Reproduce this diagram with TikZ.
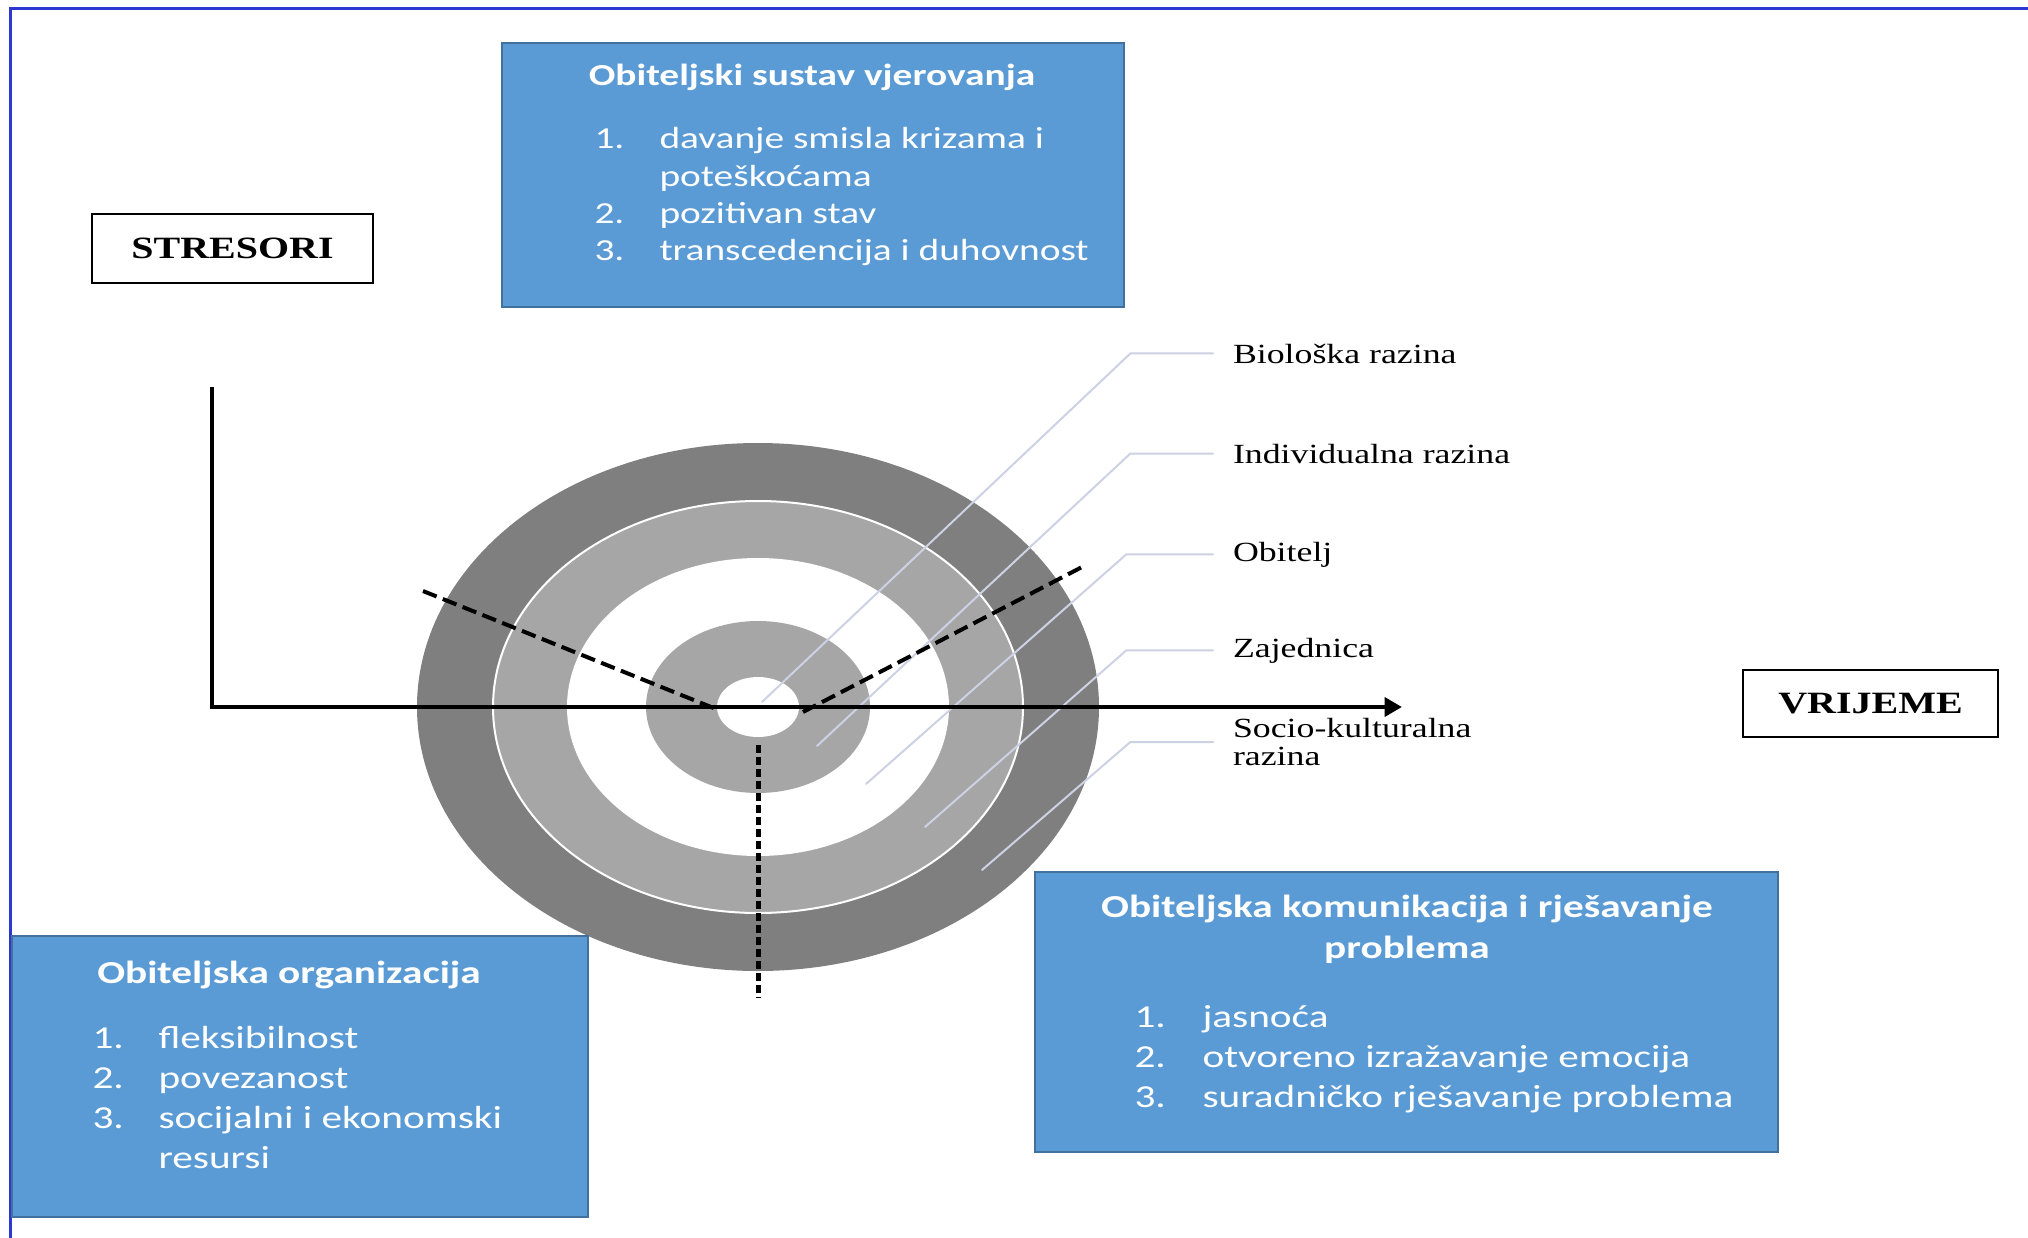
\documentclass[tikz,border=0pt]{standalone}
\usepackage{fontspec}
\usetikzlibrary{arrows.meta}
\newfontfamily\lblfont[FakeStretch=1.29]{Liberation Serif}
\newfontfamily\boxfont[FakeStretch=1.29]{Carlito}

\tikzset{every picture/.style={line width=0.75pt}}
\tikzset{
  lbl/.style={anchor=base west,inner sep=0pt,outer sep=0pt,font=\lblfont\fontsize{20.8}{21}\selectfont},
  axbox/.style={draw,line width=2pt,inner sep=0pt,outer sep=0pt,font=\lblfont\bfseries\fontsize{23.25}{26}\selectfont},
  bluebox/.style={fill={rgb, 255:red, 91; green, 155; blue, 213},draw={rgb, 255:red, 65; green, 113; blue, 156},line width=1pt,inner sep=0pt,outer sep=0pt},
  boxhead/.style={text=white,inner sep=0pt,anchor=base,font=\boxfont\bfseries\fontsize{#1}{28}\selectfont},
  boxitem/.style={text=white,inner sep=0pt,anchor=base west,font=\boxfont\fontsize{#1}{28}\selectfont},
  leader/.style={draw={rgb, 255:red, 205; green, 209; blue, 228},line width=1.5pt,line cap=round},
  sector/.style={dash pattern=on 11pt off 5pt,line width=3pt},
  axisline/.style={line width=3.5pt},
  ringdark/.style={fill={rgb, 255:red, 127; green, 127; blue, 127}},
  ringlight/.style={fill={rgb, 255:red, 166; green, 166; blue, 166}}
}

\begin{document}
\begin{tikzpicture}[x=0.75pt,y=0.75pt,yscale=-1,xscale=1]
\useasboundingbox (0,0) rectangle (2028,1238);

%Frame
\draw [color={rgb, 255:red, 45; green, 55; blue, 210 },line width=2.25pt] (10,1238) -- (10,9) -- (2028,9) ;

%Shape: Ellipse rings
\coordinate (ctr) at (758,707);
\fill [ringdark] (ctr) ellipse [x radius=341, y radius=264] ;
\filldraw [ringlight,draw=white,line width=1.5pt] (ctr) ellipse [x radius=265, y radius=206] ;
\fill [white] (ctr) ellipse [x radius=191, y radius=149] ;
\fill [ringlight] (ctr) ellipse [x radius=112, y radius=86] ;
\fill [white] (ctr) ellipse [x radius=41, y radius=30] ;

% Text Node
\draw (1233,363) node (bio) [lbl] {Biološka razina};
% Text Node
\draw (1233,463) node (ind) [lbl] {Individualna razina};
% Text Node
\draw (1233,561) node (fam) [lbl] {Obitelj};
% Text Node
\draw (1233,657) node (zaj) [lbl] {Zajednica};
% Text Node
\draw (1233,742) node (soc) [lbl,anchor=west,align=left] {Socio-kulturalna\\razina};

%Straight Lines (leaders)
\coordinate (bioS) at (762,702);
\coordinate (indS) at (817,746);
\coordinate (famS) at (866,784);
\coordinate (zajS) at (925,827);
\coordinate (socS) at (982,870);
\draw [leader] (bioS) -- ([xshift=-77pt]bio.west) -- ([xshift=-15pt]bio.west) ;
\draw [leader] (indS) -- ([xshift=-77pt]ind.west) -- ([xshift=-15pt]ind.west) ;
\draw [leader] (famS) -- ([xshift=-80pt]fam.west) -- ([xshift=-15pt]fam.west) ;
\draw [leader] (zajS) -- ([xshift=-80pt]zaj.west) -- ([xshift=-15pt]zaj.west) ;
\draw [leader] (socS) -- ([xshift=-77pt]soc.west) -- ([xshift=-15pt]soc.west) ;

%Axes
\coordinate (ytop) at (212,387);
\coordinate (xend) at (1402,707);
\draw [axisline,-{Triangle[length=13pt,width=14pt]}] (ytop) |- (xend) ;

%Dashed Lines
\coordinate (dl1) at (423,591);
\coordinate (dl2) at (716,709);
\coordinate (dr1) at (803,712);
\coordinate (dr2) at (1084,566);
\coordinate (dv1) at (758,745);
\coordinate (dv2) at (758,998);
\draw [sector] (dl1) -- (dl2) ;
\draw [sector] (dr1) -- (dr2) ;
\draw [line width=3.75pt,dash pattern=on 6pt off 3pt] (dv1) -- (dv2) ;

% Text Node
\draw (232.5,248.5) node (stres) [axbox,minimum width=210.75pt,minimum height=51.75pt] {STRESORI};
% Text Node
\draw (1870.5,703.5) node (vrij) [axbox,minimum width=191.25pt,minimum height=50.25pt] {VRIJEME};

%Shape: Rectangle (beliefs)
\draw (813,175) node (belief) [bluebox,minimum width=466.5pt,minimum height=198pt] {};
\draw (812,85) node (beliefT) [boxhead=22.9] {Obiteljski sustav vjerovanja};
\draw (594,148) node (beliefN1) [boxitem=22.9] {1.};
\draw (659,148) node (beliefA) [boxitem=22.9] {davanje smisla krizama i};
\draw (659,186) node (beliefA2) [boxitem=22.9] {poteškoćama};
\draw (594,223) node (beliefN2) [boxitem=22.9] {2.};
\draw (659,223) node (beliefB) [boxitem=22.9] {pozitivan stav};
\draw (594,260) node (beliefN3) [boxitem=22.9] {3.};
\draw (659,260) node (beliefC) [boxitem=22.9] {transcedencija i duhovnost};

%Shape: Rectangle (organisation)
\draw (300,1076.5) node (org) [bluebox,minimum width=432pt,minimum height=210.75pt] {};
\draw (289,983) node (orgT) [boxhead=24] {Obiteljska organizacija};
\draw (92,1048) node (orgN1) [boxitem=24] {1.};
\draw (158,1048) node (orgA) [boxitem=24] {fleksibilnost};
\draw (92,1088) node (orgN2) [boxitem=24] {2.};
\draw (158,1088) node (orgB) [boxitem=24] {povezanost};
\draw (92,1128) node (orgN3) [boxitem=24] {3.};
\draw (158,1128) node (orgC) [boxitem=24] {socijalni i ekonomski};
\draw (158,1168) node (orgC2) [boxitem=24] {resursi};

%Shape: Rectangle (communication)
\draw (1406.5,1012) node (comm) [bluebox,minimum width=557.25pt,minimum height=210pt] {};
\draw (1407,917) node (commT) [boxhead=24] {Obiteljska komunikacija i rješavanje};
\draw (1407,958) node (commT2) [boxhead=24] {problema};
\draw (1134,1027) node (commN1) [boxitem=24] {1.};
\draw (1202,1027) node (commA) [boxitem=24] {jasnoća};
\draw (1134,1067) node (commN2) [boxitem=24] {2.};
\draw (1202,1067) node (commB) [boxitem=24] {otvoreno izražavanje emocija};
\draw (1134,1107) node (commN3) [boxitem=24] {3.};
\draw (1202,1107) node (commC) [boxitem=24] {suradničko rješavanje problema};

\end{tikzpicture}
\end{document}
